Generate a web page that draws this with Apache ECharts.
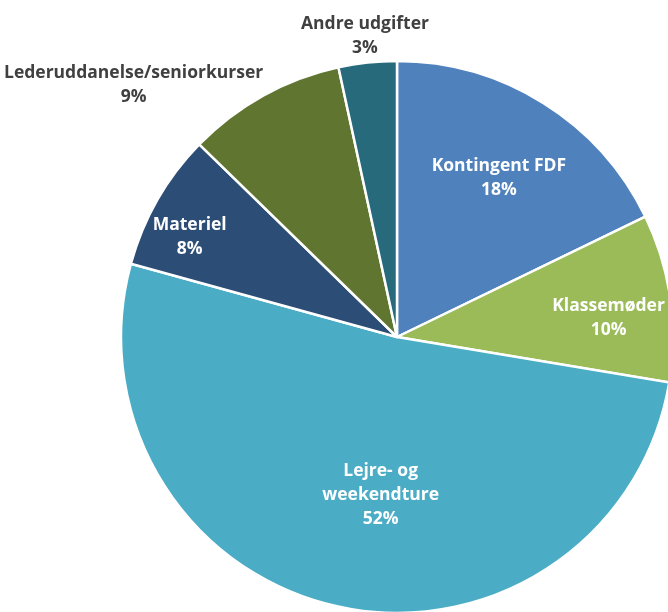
<!DOCTYPE html>
<html>
<head>
<meta charset="utf-8">
<script src="https://cdn.jsdelivr.net/npm/echarts@6/dist/echarts.min.js"></script>
<style>
  html, body { margin: 0; padding: 0; background: #fff; }
  #chart { width: 668px; height: 612px; }
</style>
</head>
<body>
<div id="chart"></div>
<script>
const categories = ['Kontingent FDF', 'Klassemøder', 'Lejre- og\nweekendture', 'Materiel', 'Lederuddanelse/seniorkurser', 'Andre udgifter']
const values = [17.8, 9.8, 51.6, 8.0, 9.3, 3.4]
const colors = ['#4f81bd', '#9bbb59', '#4bacc6', '#2c4d75', '#5f7530', '#276a7c']
const labelColors = ['#fff', '#fff', '#fff', '#fff', '#404040', '#404040']

// nudge of each label away from the default inside spot (Excel places them freely)
const labelShift = [[27, -40], [72, 1], [14, 20], [-85, -30], [-195, -129], [-17, -161]]

const chart = echarts.init(document.getElementById('chart'))

chart.setOption({
  animation: false,
  series: [{
    type: 'pie',
    center: [397, 337],
    radius: 276,
    startAngle: 90,
    clockwise: true,
    percentPrecision: 0,
    itemStyle: {
      borderColor: '#fff',
      borderWidth: 2.5
    },
    label: {
      position: 'inside',
      formatter: '{b}\n{d}%',
      fontFamily: 'Open Sans',
      fontWeight: 'bold',
      fontSize: 17.5,
      lineHeight: 24
    },
    labelLine: { show: false },
    labelLayout: (params) => ({
      dx: labelShift[params.dataIndex][0],
      dy: labelShift[params.dataIndex][1]
    }),
    data: categories.map((name, i) => ({
      name,
      value: values[i],
      itemStyle: { color: colors[i] },
      label: { color: labelColors[i] }
    }))
  }]
})
</script>
</body>
</html>
